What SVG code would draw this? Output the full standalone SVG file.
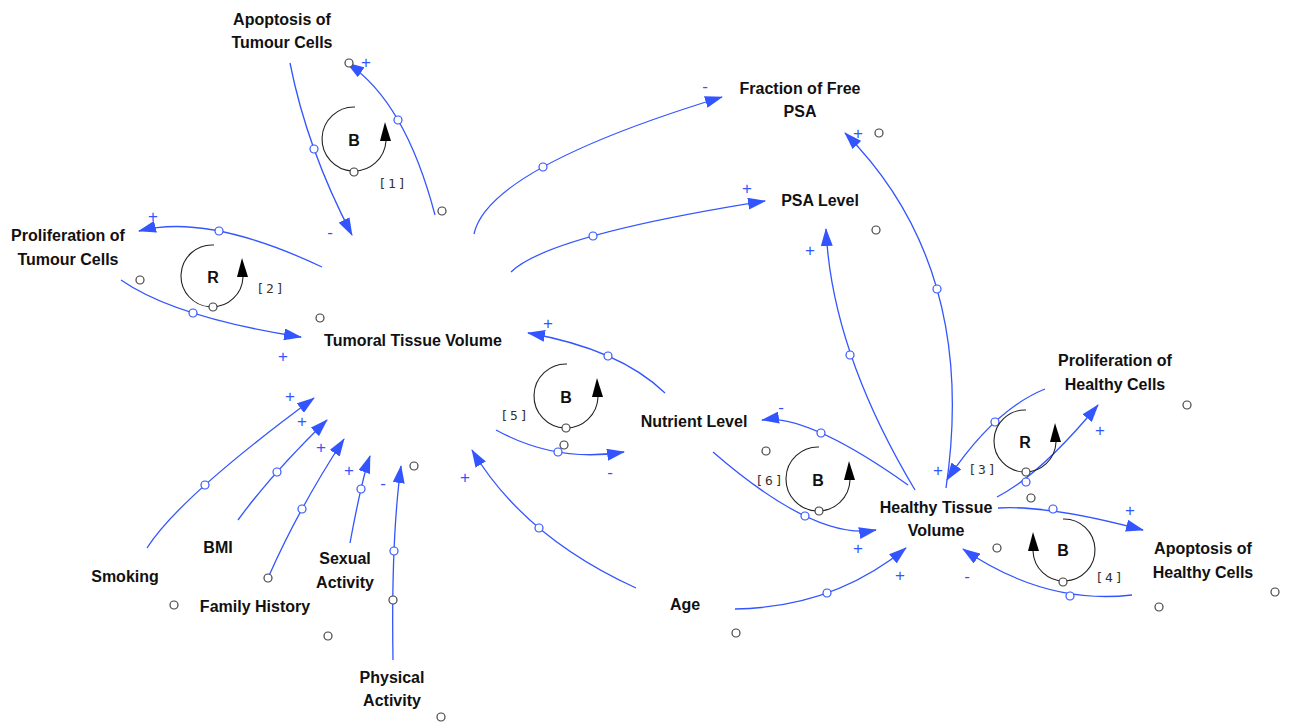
<svg xmlns="http://www.w3.org/2000/svg" width="1290" height="722" viewBox="0 0 1290 722">
<style>
.lbl{font-family:"Liberation Sans",Arial,sans-serif;font-weight:bold;font-size:16px;fill:#111;text-anchor:middle}
.lp{font-family:"Liberation Sans",Arial,sans-serif;font-weight:bold;font-size:16px;fill:#111;text-anchor:middle;dominant-baseline:central}
.num{font-family:"DejaVu Sans Mono",monospace;font-size:13px;fill:#333;text-anchor:middle;dominant-baseline:central;letter-spacing:2px}
.pol{font-family:"Liberation Sans",Arial,sans-serif;font-size:17px;fill:#3355ff;text-anchor:middle;dominant-baseline:central}
.c{fill:none;stroke:#3355ff;stroke-width:1.3;marker-end:url(#ah)}
.bc{fill:#fff;stroke:#3355ff;stroke-width:1.2}
.gc{fill:#fff;stroke:#444;stroke-width:1.2}
.loop{fill:none;stroke:#222;stroke-width:1.1}
.la{fill:#000}
</style>
<defs>
<marker id="ah" markerUnits="userSpaceOnUse" viewBox="0 0 18 12" refX="17" refY="6" markerWidth="18" markerHeight="12" orient="auto">
<path d="M0,0 L18,6 L0,12 z" fill="#3355ff"/>
</marker>
</defs>
<rect width="1290" height="722" fill="#fff"/>

<g id="connectors">
<path class="c" d="M435,215 Q405,101 347,63"/>
<path class="c" d="M290,63 Q307,149 352,235"/>
<path class="c" d="M322,267 Q207.5,213 139,231"/>
<path class="c" d="M121,280 Q175,317.5 301,337"/>
<path class="c" d="M474,234 Q488,168.5 722,97"/>
<path class="c" d="M511,272 Q548,235.5 765,201"/>
<path class="c" d="M915,490 Q831.5,350.5 826,229"/>
<path class="c" d="M946,488 Q978.5,267.5 845,133"/>
<path class="c" d="M908,485 Q807,413.5 762,420"/>
<path class="c" d="M713,452 Q815.5,541 876,530"/>
<path class="c" d="M665,393 Q619.5,349 528,333"/>
<path class="c" d="M496,430 Q556,463 624,452"/>
<path class="c" d="M636,588 Q524,537 472,450"/>
<path class="c" d="M735,609 Q833.5,607.5 906,548"/>
<path class="c" d="M1045,389 Q994,409.5 947,480"/>
<path class="c" d="M997,497 Q1040,475 1098,405"/>
<path class="c" d="M998,508 Q1050,505 1143,530"/>
<path class="c" d="M1132,595 Q1045,605 963,549"/>
<path class="c" d="M147,548 Q179.5,497 314,398"/>
<path class="c" d="M238,520 Q271.5,474 327,420"/>
<path class="c" d="M268,578 Q298,509.5 344,439"/>
<path class="c" d="M350,543 Q362,478.5 370,456"/>
<path class="c" d="M393,660 Q391,539 401,466"/>
<g>
<circle class="bc" cx="398" cy="120" r="4"/>
<circle class="bc" cx="314" cy="149" r="4"/>
<circle class="bc" cx="219" cy="231" r="4"/>
<circle class="bc" cx="193" cy="313" r="4"/>
<circle class="bc" cx="543" cy="167" r="4"/>
<circle class="bc" cx="593" cy="236" r="4"/>
<circle class="bc" cx="850" cy="355" r="4"/>
<circle class="bc" cx="937" cy="289" r="4"/>
<circle class="bc" cx="821" cy="433" r="4"/>
<circle class="bc" cx="805" cy="516" r="4"/>
<circle class="bc" cx="608" cy="356" r="4"/>
<circle class="bc" cx="558" cy="452" r="4"/>
<circle class="bc" cx="539" cy="528" r="4"/>
<circle class="bc" cx="827" cy="593" r="4"/>
<circle class="bc" cx="995" cy="422" r="4"/>
<circle class="bc" cx="1026" cy="482" r="4"/>
<circle class="bc" cx="1053" cy="509" r="4"/>
<circle class="bc" cx="1070" cy="596" r="4"/>
<circle class="bc" cx="205" cy="485" r="4"/>
<circle class="bc" cx="277" cy="472" r="4"/>
<circle class="bc" cx="302" cy="509" r="4"/>
<circle class="bc" cx="361" cy="489" r="4"/>
<circle class="bc" cx="394" cy="551" r="4"/>
</g>
<g>
<text class="pol" x="366" y="62">+</text>
<text class="pol" x="330" y="232">-</text>
<text class="pol" x="153" y="216">+</text>
<text class="pol" x="283" y="356">+</text>
<text class="pol" x="705" y="86">-</text>
<text class="pol" x="747" y="188">+</text>
<text class="pol" x="810" y="250">+</text>
<text class="pol" x="858" y="133">+</text>
<text class="pol" x="781" y="407">-</text>
<text class="pol" x="858" y="548">+</text>
<text class="pol" x="548" y="323">+</text>
<text class="pol" x="610" y="472">-</text>
<text class="pol" x="465" y="477">+</text>
<text class="pol" x="900" y="575">+</text>
<text class="pol" x="938" y="470">+</text>
<text class="pol" x="1100" y="430">+</text>
<text class="pol" x="1130" y="510">+</text>
<text class="pol" x="967" y="576">-</text>
<text class="pol" x="290" y="396">+</text>
<text class="pol" x="302" y="421">+</text>
<text class="pol" x="321" y="447">+</text>
<text class="pol" x="349" y="470">+</text>
<text class="pol" x="383" y="483">-</text>
</g>
</g>

<g id="markers">
<circle class="gc" cx="349" cy="63" r="4"/>
<circle class="gc" cx="442" cy="211" r="4"/>
<circle class="gc" cx="140" cy="280" r="4"/>
<circle class="gc" cx="320" cy="318" r="4"/>
<circle class="gc" cx="879" cy="133" r="4"/>
<circle class="gc" cx="876" cy="230" r="4"/>
<circle class="gc" cx="1187" cy="405" r="4"/>
<circle class="gc" cx="766" cy="451" r="4"/>
<circle class="gc" cx="1031" cy="498" r="4"/>
<circle class="gc" cx="997" cy="548" r="4"/>
<circle class="gc" cx="1159" cy="607" r="4"/>
<circle class="gc" cx="1275" cy="592" r="4"/>
<circle class="gc" cx="174" cy="605" r="4"/>
<circle class="gc" cx="328" cy="636" r="4"/>
<circle class="gc" cx="414" cy="466" r="4"/>
<circle class="gc" cx="441" cy="717" r="4"/>
<circle class="gc" cx="736" cy="633" r="4"/>
<circle class="gc" cx="564" cy="445" r="4"/>
<circle class="gc" cx="268" cy="578" r="4"/>
<circle class="gc" cx="393" cy="600" r="4"/>
</g>

<g id="loop1">
<path class="loop" d="M355,107 A32,32 0 1 0 386,141"/>
<polygon class="la" points="380,141 391,141 385,122"/>
<circle class="gc" cx="354" cy="172" r="4"/>
<text class="lp" x="354" y="140">B</text>
<text class="num" x="393" y="183">[1]</text>
</g>
<g id="loop2">
<path class="loop" d="M214,245 A31,31 0 1 0 243,277"/>
<polygon class="la" points="237,277 248,277 242,258"/>
<circle class="gc" cx="213" cy="307" r="4"/>
<text class="lp" x="213" y="277">R</text>
<text class="num" x="271" y="288">[2]</text>
</g>
<g id="loop5">
<path class="loop" d="M567,364 A32,32 0 1 0 598,397"/>
<polygon class="la" points="592,397 603,397 597,378"/>
<circle class="gc" cx="566" cy="428" r="4"/>
<text class="lp" x="566" y="397">B</text>
<text class="num" x="515" y="415">[5]</text>
</g>
<g id="loop6">
<path class="loop" d="M819,447 A32,32 0 1 0 850,480"/>
<polygon class="la" points="844,480 855,480 849,461"/>
<circle class="gc" cx="819" cy="511" r="4"/>
<text class="lp" x="818" y="480">B</text>
<text class="num" x="770" y="480">[6]</text>
</g>
<g id="loop3">
<path class="loop" d="M1026,410 A31,31 0 1 0 1056,442"/>
<polygon class="la" points="1050,442 1061,442 1055,423"/>
<circle class="gc" cx="1026" cy="472" r="4"/>
<text class="lp" x="1025" y="442">R</text>
<text class="num" x="983" y="469">[3]</text>
</g>
<g id="loop4">
<path class="loop" d="M1063,519 A31,31 0 1 1 1033,551"/>
<polygon class="la" points="1028,551 1039,551 1033,532"/>
<circle class="gc" cx="1063" cy="582" r="4"/>
<text class="lp" x="1063" y="550">B</text>
<text class="num" x="1110" y="577">[4]</text>
</g>

<g id="n-apoptosis-tumour"><text class="lbl" x="282" y="25">Apoptosis of</text><text class="lbl" x="282" y="48">Tumour Cells</text></g>
<g id="n-prolif-tumour"><text class="lbl" x="68" y="241">Proliferation of</text><text class="lbl" x="68" y="265">Tumour Cells</text></g>
<g id="n-tumoral"><text class="lbl" x="413" y="346">Tumoral Tissue Volume</text></g>
<g id="n-ffpsa"><text class="lbl" x="800" y="94">Fraction of Free</text><text class="lbl" x="800" y="117">PSA</text></g>
<g id="n-psa"><text class="lbl" x="820" y="206">PSA Level</text></g>
<g id="n-prolif-healthy"><text class="lbl" x="1115" y="366">Proliferation of</text><text class="lbl" x="1115" y="390">Healthy Cells</text></g>
<g id="n-healthy"><text class="lbl" x="936" y="513">Healthy Tissue</text><text class="lbl" x="936" y="536">Volume</text></g>
<g id="n-apoptosis-healthy"><text class="lbl" x="1203" y="554">Apoptosis of</text><text class="lbl" x="1203" y="578">Healthy Cells</text></g>
<g id="n-nutrient"><text class="lbl" x="694" y="427">Nutrient Level</text></g>
<g id="n-age"><text class="lbl" x="685" y="610">Age</text></g>
<g id="n-smoking"><text class="lbl" x="125" y="582">Smoking</text></g>
<g id="n-bmi"><text class="lbl" x="218" y="553">BMI</text></g>
<g id="n-family"><text class="lbl" x="255" y="612">Family History</text></g>
<g id="n-sexual"><text class="lbl" x="345" y="564">Sexual</text><text class="lbl" x="345" y="588">Activity</text></g>
<g id="n-physical"><text class="lbl" x="392" y="683">Physical</text><text class="lbl" x="392" y="706">Activity</text></g>
</svg>
